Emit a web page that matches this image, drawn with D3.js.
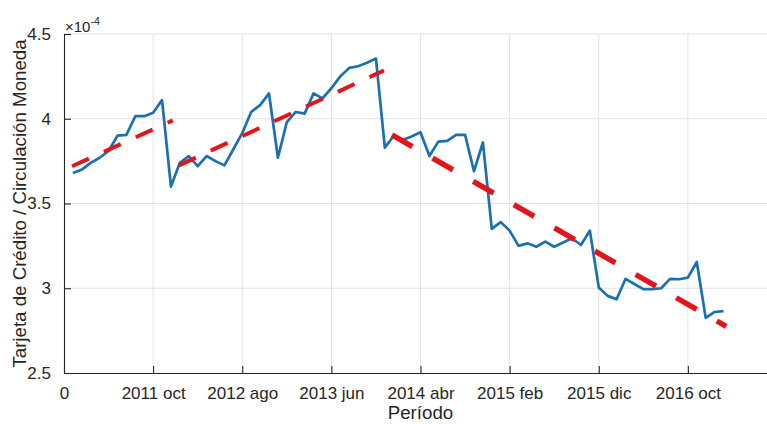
<!DOCTYPE html>
<html><head><meta charset="utf-8">
<script src="https://cdn.jsdelivr.net/npm/d3@7"></script>
<style>
html,body{margin:0;padding:0;background:#fff;}
svg{display:block;font-family:"Liberation Sans",Arial,Helvetica,sans-serif;}
</style></head>
<body>
<script>
// ---- data (values in units of 1e-4) ----
const firstPeriod = 1;
const ratio = [3.68,3.70,3.74,3.77,3.81,3.90,3.905,4.015,4.015,4.035,4.11,3.60,3.74,3.78,3.72,3.78,3.75,3.725,3.82,3.915,
  4.04,4.08,4.15,3.77,3.98,4.04,4.03,4.15,4.12,4.18,4.25,4.30,4.31,4.33,4.355,3.83,3.90,3.875,3.895,3.92,
  3.78,3.865,3.87,3.905,3.905,3.69,3.86,3.35,3.39,3.34,3.25,3.265,3.245,3.275,3.245,3.27,3.295,3.255,3.34,3.005,
  2.955,2.935,3.055,3.025,2.995,2.995,3.0,3.055,3.053,3.063,3.155,2.825,2.86,2.865];
const trendStartX = [0.9, 12.9, 36.8];
const trendStartY = [3.72, 3.725, 3.905];
const trendEndX = [12.2, 35.9, 74.3];
const trendEndY = [3.99, 4.285, 2.775];
const trendWidth = [4, 4, 5.4];
const trendDash = ["18.5,16.5", "18.5,16.5", "23.5,23.3"];
const xTicks = [0,10,20,30,40,50,60,70];
const xTickLabels = ["0","2011 oct","2012 ago","2013 jun","2014 abr","2015 feb","2015 dic","2016 oct"];
const yTicks = [2.5,3,3.5,4,4.5];
const yTickLabels = ["2.5","3","3.5","4","4.5"];
const xDomain = [0,80];
const yDomain = [2.5,4.5];

const W = 767, H = 424;
const svg = d3.select("body").append("svg").attr("width",W).attr("height",H);
svg.append("rect").attr("width",W).attr("height",H).attr("fill","#fff");

const x = d3.scaleLinear().domain(xDomain).range([64, 777]);
const y = d3.scaleLinear().domain(yDomain).range([373, 34]);
const axisColor = "#262626";

// grid
const grid = svg.append("g");
grid.selectAll(".gx").data(xTicks.slice(1)).join("line")
  .attr("x1",d=>x(d)).attr("x2",d=>x(d)).attr("y1",y(yDomain[0])).attr("y2",y(yDomain[1]))
  .attr("stroke","#e3e3e3").attr("stroke-width",1);
grid.selectAll(".gy").data(yTicks.slice(1)).join("line")
  .attr("x1",x(xDomain[0])).attr("x2",x(xDomain[1])).attr("y1",d=>y(d)).attr("y2",d=>y(d))
  .attr("stroke","#e3e3e3").attr("stroke-width",1);

// axes
const xAxis = d3.axisBottom(x).tickValues(xTicks).tickFormat((d,i)=>xTickLabels[i]).tickSizeInner(-7).tickSizeOuter(0).tickPadding(14);
const yAxis = d3.axisLeft(y).tickValues(yTicks).tickFormat((d,i)=>yTickLabels[i]).tickSizeInner(-7).tickSizeOuter(0).tickPadding(13);
const gx = svg.append("g").attr("transform",`translate(0,${y(yDomain[0])})`).call(xAxis);
const gy = svg.append("g").attr("transform",`translate(${x(xDomain[0])},0)`).call(yAxis);
[gx,gy].forEach(g=>{
  g.select(".domain").attr("stroke",axisColor).attr("stroke-width",1.1);
  g.selectAll(".tick line").attr("stroke",axisColor).attr("stroke-width",1.1);
  g.selectAll(".tick text").attr("fill",axisColor).style("font-size","17px").style("font-family","Liberation Sans, Arial, sans-serif");
});
gy.select(".domain").attr("d",`M0.5,${y(yDomain[0])}V${y(yDomain[1])}`);

// exponent
const ex = svg.append("text").attr("x",65).attr("y",32).attr("fill",axisColor).style("font-size","15px");
ex.append("tspan").text("\u00d710");
ex.append("tspan").attr("dy",-7).style("font-size","10.5px").text("-4");

// axis labels
svg.append("text").attr("x",(x(xDomain[0])+x(xDomain[1]))/2).attr("y",419).attr("text-anchor","middle")
  .attr("fill",axisColor).style("font-size","18.7px").text("Período");
svg.append("text").attr("transform",`translate(26,${(y(yDomain[0])+y(yDomain[1]))/2}) rotate(-90)`)
  .attr("text-anchor","middle").attr("fill",axisColor).style("font-size","18.7px")
  .text("Tarjeta de Crédito / Circulación Moneda");

// data line
const line = d3.line().x((d,i)=>x(firstPeriod+i)).y(d=>y(d));
svg.append("path").datum(ratio).attr("d",line).attr("fill","none")
  .attr("stroke","#1a70b0").attr("stroke-width",2.7).attr("stroke-linejoin","round");

// trend lines
svg.append("g").selectAll("line").data(trendStartX).join("line")
  .attr("x1",(d,i)=>x(trendStartX[i])).attr("y1",(d,i)=>y(trendStartY[i]))
  .attr("x2",(d,i)=>x(trendEndX[i])).attr("y2",(d,i)=>y(trendEndY[i]))
  .attr("stroke","#e3151b").attr("stroke-width",(d,i)=>trendWidth[i])
  .attr("stroke-dasharray",(d,i)=>trendDash[i]).attr("stroke-linecap","butt");
</script>
</body></html>
